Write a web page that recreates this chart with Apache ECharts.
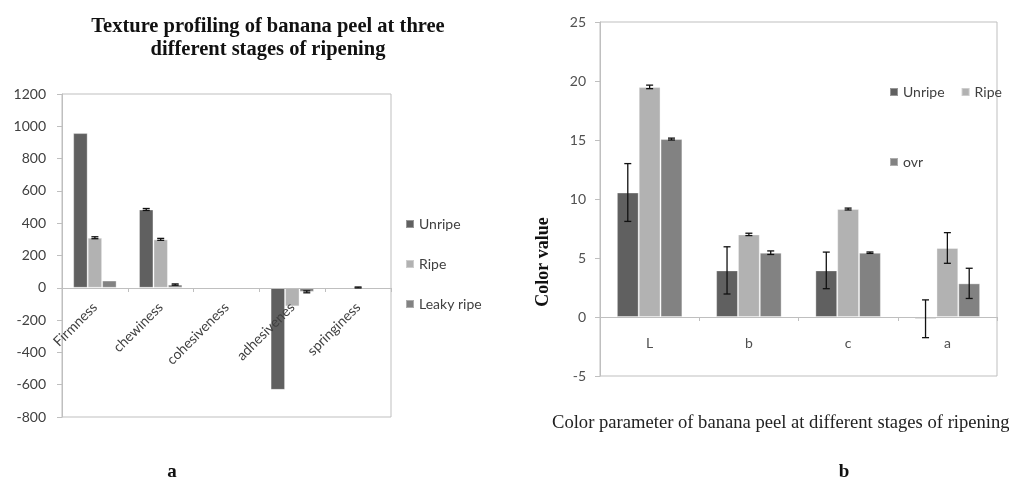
<!DOCTYPE html>
<html>
<head>
<meta charset="utf-8">
<script src="https://cdn.jsdelivr.net/npm/echarts@6/dist/echarts.min.js"></script>
<style>html,body{margin:0;padding:0;background:#fff}#c{width:1009px;height:480px}</style>
</head>
<body>
<div id="c"></div>
<script>
// ---- Chart a: texture profiling ----
const textureCategories = ['Firmness', 'chewiness', 'cohesiveness', 'adhesivenes', 'springiness'];
const textureUnripe = [958, 485, 0, -632, 0];
const textureRipe = [310, 300, 0, -115, 2];
const textureLeaky = [45, 20, 0, -25, 0];
const textureUnripeErr = [0, 6, 0, 0, 0];
const textureRipeErr = [6, 6, 0, 0, 3];
const textureLeakyErr = [0, 4, 0, 6, 0];
const textureTicks = [-800, 1200, 200];

// ---- Chart b: colour parameters ----
const colorCategories = ['L', 'b', 'c', 'a'];
const colorUnripe = [10.55, 3.95, 3.95, -0.15];
const colorRipe = [19.5, 7.0, 9.15, 5.85];
const colorOvr = [15.08, 5.45, 5.45, 2.85];
const colorUnripeErr = [2.45, 2.0, 1.55, 1.6];
const colorRipeErr = [0.15, 0.1, 0.08, 1.3];
const colorOvrErr = [0.08, 0.15, 0.06, 1.28];
const colorTicks = [-5, 25, 5];

const C_UNRIPE = '#606060', C_RIPE = '#b2b2b2', C_LEAKY = '#828282';
const GAP = 0.34;
const AXIS_C = '#bfbfbf';
const LABEL_C = '#404040';
const SANS = 'Lato';
const SERIF = 'Liberation Serif';

// grid geometry (pixels)
const G0 = { left: 62, top: 94, width: 329, height: 323 };
const G1 = { left: 600, top: 22, width: 397, height: 354 };
// offset that brings a bottom category axis up to the value 0 line
function zeroOffset(g, ticks) {
  const frac = (0 - ticks[0]) / (ticks[1] - ticks[0]);
  return -Math.round(g.height * frac);
}

function errSeries(xi, yi, vals, errs, idx) {
  return {
    type: 'custom', xAxisIndex: xi, yAxisIndex: yi, z: 10, silent: true,
    data: vals.map((v, i) => [i, v, errs[i]]),
    renderItem: function (params, api) {
      const cat = api.value(0), v = api.value(1), e = api.value(2);
      if (!e) return null;
      const base = api.coord([cat, v]);
      const bandW = api.size([1, 0])[0];
      const total = bandW * (1 - GAP);
      const barW = total / 3;
      const cx = base[0] - total / 2 + barW * (idx + 0.5);
      const hi = api.coord([cat, v + e])[1];
      const lo = api.coord([cat, v - e])[1];
      const cap = 3.5;
      const st = { stroke: '#111', lineWidth: 1.3 };
      return {
        type: 'group', children: [
          { type: 'line', shape: { x1: cx, y1: hi, x2: cx, y2: lo }, style: st },
          { type: 'line', shape: { x1: cx - cap, y1: hi, x2: cx + cap, y2: hi }, style: st },
          { type: 'line', shape: { x1: cx - cap, y1: lo, x2: cx + cap, y2: lo }, style: st }
        ]
      };
    }
  };
}

function bar(name, xi, yi, data, color) {
  return {
    name: name, type: 'bar', xAxisIndex: xi, yAxisIndex: yi, data: data,
    barGap: '0%', barCategoryGap: (GAP * 100) + '%',
    itemStyle: { color: color, borderColor: 'rgba(255,255,255,0.35)', borderWidth: 1 },
    emphasis: { disabled: true }
  };
}

const chart = echarts.init(document.getElementById('c'), null, { renderer: 'canvas' });
chart.setOption({
  animation: false,
  backgroundColor: '#fff',
  title: [
    { text: 'Texture profiling of banana peel at three\ndifferent stages of ripening', left: 263, top: 10, textAlign: 'center',
      textStyle: { fontFamily: SERIF, fontWeight: 'bold', fontSize: 20.5, lineHeight: 23, color: '#111' } },
    { text: 'a', left: 167, top: 458, textAlign: 'center', textStyle: { fontFamily: SERIF, fontWeight: 'bold', fontSize: 19, color: '#111' } },
    { text: 'b', left: 839, top: 458, textAlign: 'center', textStyle: { fontFamily: SERIF, fontWeight: 'bold', fontSize: 19, color: '#111' } },
    { text: 'Color parameter of banana peel at different stages of ripening', left: 552, top: 414, padding: 0,
      textStyle: { fontFamily: SERIF, fontWeight: 'normal', fontSize: 18.6, color: '#222' } }
  ],
  graphic: [
    { type: 'text', x: 543, y: 262, rotation: Math.PI / 2,
      style: { text: 'Color value', font: 'bold 18px "Liberation Serif"', fill: '#111', textAlign: 'center', textVerticalAlign: 'middle' } }
  ],
  legend: [
    { data: ['Unripe', 'Ripe', 'Leaky ripe'], orient: 'vertical', left: 400, top: 211, itemWidth: 8, itemHeight: 8, itemGap: 24,
      icon: 'rect', selectedMode: false, textStyle: { fontFamily: SANS, fontSize: 14, color: LABEL_C, lineHeight: 16 } },
    { data: ['Unripe', 'Ripe'], orient: 'horizontal', left: 884, top: 79, itemWidth: 8, itemHeight: 8, itemGap: 16,
      icon: 'rect', selectedMode: false, textStyle: { fontFamily: SANS, fontSize: 14, color: LABEL_C, lineHeight: 16 } },
    { data: ['ovr'], orient: 'horizontal', left: 884, top: 149, itemWidth: 8, itemHeight: 8,
      icon: 'rect', selectedMode: false, textStyle: { fontFamily: SANS, fontSize: 14, color: LABEL_C, lineHeight: 16 } }
  ],
  grid: [
    Object.assign({ show: true, borderColor: AXIS_C, borderWidth: 1 }, G0),
    Object.assign({ show: true, borderColor: AXIS_C, borderWidth: 1 }, G1)
  ],
  xAxis: [
    { type: 'category', gridIndex: 0, data: textureCategories, offset: zeroOffset(G0, textureTicks), z: 5,
      axisLine: { onZero: false, lineStyle: { color: AXIS_C } },
      axisTick: { show: true, length: 4, lineStyle: { color: AXIS_C } },
      axisLabel: { rotate: 45, margin: 17, interval: 0, fontFamily: SANS, fontSize: 14, color: LABEL_C } },
    { type: 'category', gridIndex: 1, data: colorCategories, offset: zeroOffset(G1, colorTicks), z: 5,
      axisLine: { onZero: false, lineStyle: { color: AXIS_C } },
      axisTick: { show: true, length: 4, lineStyle: { color: AXIS_C } },
      axisLabel: { margin: 19, interval: 0, fontFamily: SANS, fontSize: 14, color: '#505050' } }
  ],
  yAxis: [
    { type: 'value', gridIndex: 0, min: textureTicks[0], max: textureTicks[1], interval: textureTicks[2],
      axisLine: { show: true, lineStyle: { color: AXIS_C } },
      axisTick: { show: true, length: 5, lineStyle: { color: AXIS_C } },
      splitLine: { show: false },
      axisLabel: { margin: 16, fontFamily: SANS, fontSize: 14, color: LABEL_C, formatter: v => String(v) } },
    { type: 'value', gridIndex: 1, min: colorTicks[0], max: colorTicks[1], interval: colorTicks[2],
      axisLine: { show: true, lineStyle: { color: AXIS_C } },
      axisTick: { show: true, length: 5, lineStyle: { color: AXIS_C } },
      splitLine: { show: false },
      axisLabel: { margin: 14, fontFamily: SANS, fontSize: 14, color: '#505050', formatter: v => String(v) } }
  ],
  series: [
    bar('Unripe', 0, 0, textureUnripe, C_UNRIPE),
    bar('Ripe', 0, 0, textureRipe, C_RIPE),
    bar('Leaky ripe', 0, 0, textureLeaky, C_LEAKY),
    errSeries(0, 0, textureUnripe, textureUnripeErr, 0),
    errSeries(0, 0, textureRipe, textureRipeErr, 1),
    errSeries(0, 0, textureLeaky, textureLeakyErr, 2),
    bar('Unripe', 1, 1, colorUnripe, C_UNRIPE),
    bar('Ripe', 1, 1, colorRipe, C_RIPE),
    bar('ovr', 1, 1, colorOvr, C_LEAKY),
    errSeries(1, 1, colorUnripe, colorUnripeErr, 0),
    errSeries(1, 1, colorRipe, colorRipeErr, 1),
    errSeries(1, 1, colorOvr, colorOvrErr, 2)
  ]
});
</script>
</body>
</html>
